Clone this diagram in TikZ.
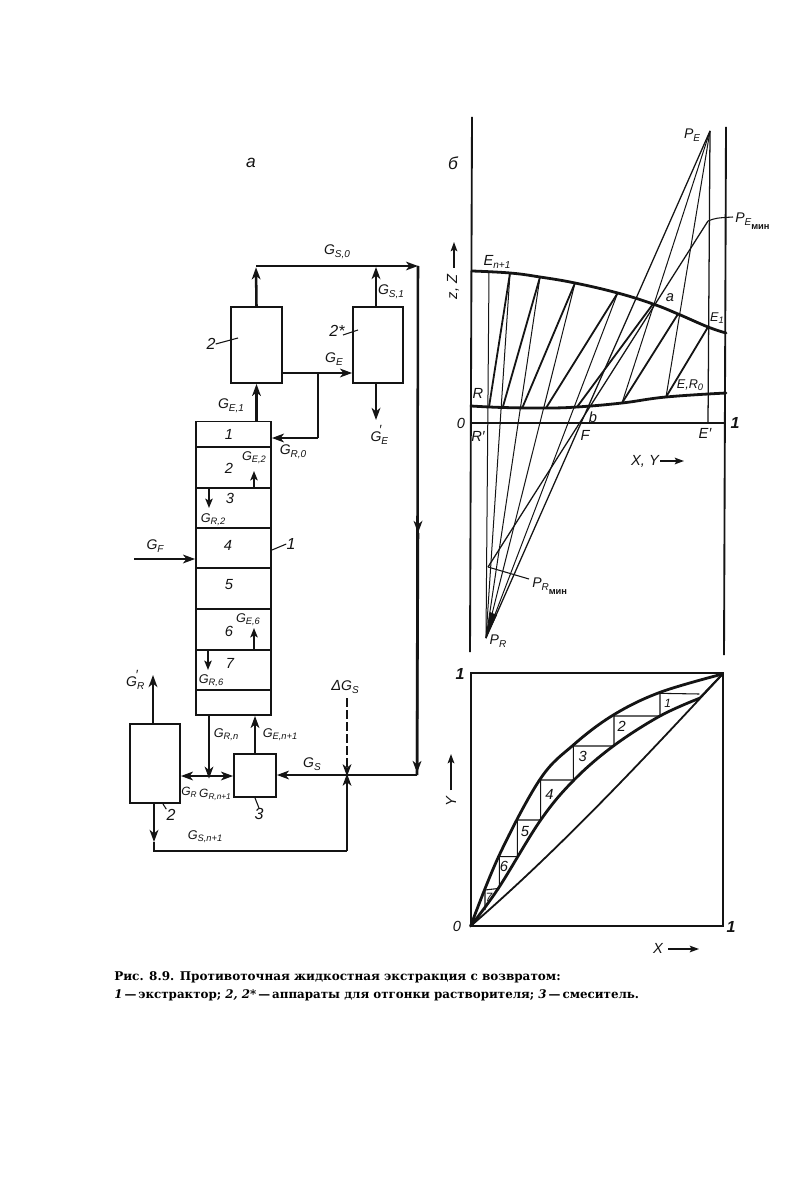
\documentclass[tikz,border=0pt]{standalone}
\usepackage{fontspec}
\setmainfont{Liberation Sans}
\newfontfamily\capf{DejaVu Serif}
\usetikzlibrary{arrows.meta}
\newcommand{\Gl}[2]{{\fontsize{10.5}{10.5}\selectfont #1}\raisebox{-.35ex}{\fontsize{7.5}{7.5}\selectfont #2}}
\newcommand{\Gs}[2]{{\fontsize{9.5}{9.5}\selectfont #1}\raisebox{-.3ex}{\fontsize{7}{7}\selectfont #2}}
\newcommand{\Gt}[2]{{\fontsize{9}{9}\selectfont #1}\raisebox{-.3ex}{\fontsize{6.2}{6.2}\selectfont #2}}
\newcommand{\primemark}{\hspace{-.62em}\raisebox{.95ex}{\fontsize{10}{10}\selectfont ′}}
\tikzset{
  ink/.style={draw=black!92},
  boxn/.style={ink,line width=1.35pt,inner sep=0pt},
  stagen/.style={boxn,minimum width=56.25pt},
  flow/.style={ink,line width=1.9pt,-{Stealth[length=9pt,width=6.5pt,inset=2.5pt]}},
  flowplain/.style={ink,line width=1.9pt},
  flowthin/.style={ink,line width=1.3pt,-{Stealth[length=7pt,width=5.5pt,inset=1.5pt]}},
  lab/.style={inner sep=0pt,font=\itshape\fontsize{11}{11}\selectfont,text=black!92},
  leader/.style={ink,line width=.8pt},
  axisl/.style={ink,line width=1.4pt},
  thin ray/.style={ink,line width=.75pt},
  tie/.style={ink,line width=1.35pt},
  eqc/.style={ink,line width=2.1pt,line cap=round},
  axarrow/.style={ink,line width=1.1pt,-{Stealth[length=7pt,width=5pt,inset=1.5pt]}}
}
\begin{document}
\begin{tikzpicture}[x=.75pt,y=-.75pt]
\useasboundingbox (0,0) rectangle (810,1201);
\fill[white] (0,0) rectangle (810,1201);
% ---------- panel a
\node[lab,font=\itshape\fontsize{13}{13}\selectfont] (pa) at (251,163) {а};
\node[boxn,minimum width=38.25pt,minimum height=57pt] (s2) at (256.5,345) {};
\node[boxn,minimum width=37.5pt,minimum height=57pt] (s2s) at (378,345) {};
\node[boxn,minimum width=37.5pt,minimum height=59.25pt] (s2b) at (155,763.5) {};
\node[boxn,minimum width=31.5pt,minimum height=32.25pt] (s3) at (255,775.5) {};
\node[stagen,minimum height=19.5pt] (c1) at (233.5,434.5) {};
\node[stagen,minimum height=30.75pt] (c2) at (233.5,467.5) {};
\node[stagen,minimum height=30pt] (c3) at (233.5,508) {};
\node[stagen,minimum height=30pt] (c4) at (233.5,548) {};
\node[stagen,minimum height=30.75pt] (c5) at (233.5,588.5) {};
\node[stagen,minimum height=30.75pt] (c6) at (233.5,629.5) {};
\node[stagen,minimum height=30pt] (c7) at (233.5,670) {};
\node[stagen,minimum height=18.75pt] (c8) at (233.5,702.5) {};
\coordinate (tl) at (256,266);
\coordinate (tr) at (418,266);
\coordinate (rb) at (417,775);
\coordinate (cross) at (347,775);
\coordinate (bl) at (154,851);
\coordinate (br) at (347,851);
\coordinate (j1) at (318,373);
\coordinate (j2) at (318,438);
\coordinate (j3) at (209,776);
\coordinate (mid1) at (418,533);
\coordinate (mid2) at (154,842);
\coordinate (fi) at (134,559);
\coordinate (gr) at (153,675);
\coordinate (ge) at (376,420);
\coordinate (dg) at (347,698);
\coordinate (up1) at (254,471);
\coordinate (dn1) at (209,508);
\coordinate (up2) at (254,628);
\coordinate (dn2) at (208,670);
\coordinate (gn) at (255,715);
\coordinate (gt) at (376,267);
% flows
\draw[flow] (s2.north) -- ([yshift=-1pt]tl);
\draw[flow,line width=1.5pt] (tl) -- (tr);
\draw[flow] (s2s.north -| gt) -- (gt);
\draw[flowplain] (tr) -- (rb);
\draw[flow] (tr) -- (mid1);
\draw[flow] (mid1) -- (417,773);
\draw[flow] (c1.north -| s2.south) -- (s2.south);
\draw[flow] (s2.east |- j1) -- (s2s.west |- j1);
\draw[flowplain] (j1) -- (j2);
\draw[flow] (j2) -- (c1.east |- j2);
\draw[flow] (s2s.south -| ge) -- (ge);
\draw[flowthin] (up1 |- c3.north) -- (up1);
\draw[flowthin] (dn1 |- c3.north) -- (dn1);
\draw[flowthin] (up2 |- c7.north) -- (up2);
\draw[flowthin] (dn2 |- c7.north) -- (dn2);
\draw[flow] (fi) -- (c4.west |- fi);
\draw[flow,line width=1.4pt] (c8.south -| j3) -- ([yshift=-2pt]j3);
\draw[flow,{Stealth[length=9pt,width=6.5pt,inset=2.5pt]}-{Stealth[length=9pt,width=6.5pt,inset=2.5pt]}] (s2b.east |- j3) -- (s3.west |- j3);
\draw[flow] (s3.north -| gn) -- (c8.south -| gn);
\draw[flow] (gr |- s2b.north) -- (gr);
\draw[flowplain] (rb) -- (cross);
\draw[flow] (cross) -- (s3.east |- cross);
\draw[flow,dash pattern=on 7pt off 2pt] (dg) -- ([yshift=-1pt]cross);
\draw[flow] (s2b.south -| bl) -- (mid2);
\draw[flowplain] (mid2) -- (bl) -- (br);
\draw[flow] (br) -- ([yshift=1pt]cross);
% labels a
\node[lab] (t1) at (337,252) {\Gl{G}{S,0}};
\node[lab] (t2) at (391,292) {\Gl{G}{S,1}};
\node[lab] (t3) at (334,359) {\Gl{G}{E}};
\node[lab] (t4) at (231,406) {\Gl{G}{E,1}};
\node[lab] (t5) at (376,435) {\Gl{G}{E}\primemark};
\node[lab] (t6) at (293,452) {\Gl{G}{R,0}};
\node[lab] (t7) at (254,458) {\Gs{G}{E,2}};
\node[lab] (t8) at (213,520) {\Gs{G}{R,2}};
\node[lab] (t9) at (155,546) {\Gl{G}{F}};
\node[lab] (t10) at (248,620) {\Gs{G}{E,6}};
\node[lab] (t11) at (211,681) {\Gs{G}{R,6}};
\node[lab] (t12) at (132,680) {\Gl{G}{R}\primemark};
\node[lab] (t13) at (345,687) {Δ\Gl{G}{S}};
\node[lab] (t14) at (226,735) {\Gs{G}{R,n}};
\node[lab] (t15) at (280,735) {\Gs{G}{E,n+1}};
\node[lab] (t16) at (312,764) {\Gl{G}{S}};
\node[lab] (t17) at (189,792) {\Gt{G}{R}};
\node[lab] (t18) at (215,795) {\Gt{G}{R,n+1}};
\node[lab] (t19) at (205,837) {\Gs{G}{S,n+1}};
\node[lab] (d1) at (229,434) {1};
\node[lab] (d2) at (229,468) {2};
\node[lab] (d3) at (230,498) {3};
\node[lab] (d4) at (228,545) {4};
\node[lab] (d5) at (229,585) {5};
\node[lab] (d6) at (229,631) {6};
\node[lab] (d7) at (230,663) {7};
\node[lab,font=\itshape\fontsize{12}{12}\selectfont] (n2) at (211,344) {2};
\draw[leader] (n2.east) -- (238,338);
\node[lab,font=\itshape\fontsize{12}{12}\selectfont] (n2s) at (337,331) {2*};
\draw[leader] (343,335) -- (358,330);
\node[lab,font=\itshape\fontsize{12}{12}\selectfont] (n1) at (291,544) {1};
\draw[leader] (272,550) -- (n1.west);
\node[lab,font=\itshape\fontsize{12}{12}\selectfont] (n2b) at (171,815) {2};
\draw[leader] (163,804) -- (n2b.north west);
\node[lab,font=\itshape\fontsize{12}{12}\selectfont] (n3) at (259,814) {3};
\draw[leader] (255,798) -- (n3.north);
% ---------- panel b
\node[lab,font=\itshape\fontsize{13}{13}\selectfont] (pb) at (453,163) {б};
\coordinate (PE) at (710,131);
\coordinate (PR) at (486,638);
\coordinate (PEm) at (708,221);
\coordinate (PRm) at (488,567);
\coordinate (F) at (579,423);
\coordinate (Ep) at (708,423);
\coordinate (U0) at (489,271.5);
\coordinate (U1) at (510,273);
\coordinate (U2) at (540,277);
\coordinate (U3) at (575,283);
\coordinate (U4) at (617.7,293);
\coordinate (U5) at (653,304);
\coordinate (U6) at (678,314);
\coordinate (U7) at (708,327);
\coordinate (L0) at (489,407);
\coordinate (L1) at (502.7,407.5);
\coordinate (L2) at (522,408.5);
\coordinate (L3) at (546,408);
\coordinate (L4) at (577,407);
\coordinate (L5) at (622,403);
\coordinate (L6) at (666,397);
\draw[axisl] (472,117) -- (470,652);
\draw[axisl] (726,127) -- (724,655);
\draw[axisl] (471,423) -- (725,423);
\foreach \u in {U0,U1,U2,U3,U4} \draw[thin ray] (PR) -- (\u);
\draw[thin ray] (PE) -- (L6);
\draw[thin ray] (PE) -- (L5);
\draw[thin ray,line width=.95pt] (PE) -- (PR);
\draw[thin ray,line width=.95pt] (PEm) -- (PRm);
\draw[thin ray,line width=.95pt] (PE) -- (Ep);
\path[fill=black!92] (PR) -- (490,612) -- (497,615) -- cycle;
\draw[tie] (L0) -- (U1);
\draw[tie] (L1) -- (U2);
\draw[tie] (L2) -- (U3);
\draw[tie] (L3) -- (U4);
\draw[tie] (L4) -- (U5);
\draw[tie] (L5) -- (U6);
\draw[tie] (L6) -- (U7);
\draw[eqc] plot[smooth,tension=.7] coordinates {(472,271) (U1) (U2) (U3) (U4) (U5) (U6) (U7) (726,333)};
\draw[eqc] plot[smooth,tension=.7] coordinates {(471,406) (L1) (L3) (L4) (L5) (L6) (726,393)};
\draw[leader] (PEm) .. controls (716,218) .. (733,217);
\draw[leader] (PRm) -- (529,579);
\draw[axarrow] (454,268) -- (454,242);
\node[lab,rotate=90] (zz) at (453,287) {z, Z};
\node[lab] (l1) at (497,262) {E\raisebox{-.35ex}{\fontsize{7.5}{7.5}\selectfont n+1}};
\node[lab] (l2) at (692,135) {\Gl{P}{E}};
\node[lab,anchor=west] (l3) at (735,221) {\Gl{P}{E}\raisebox{-.9ex}{\fontsize{7}{7}\selectfont\upshape\bfseries мин}};
\node[lab] (l4) at (670,298) {a};
\node[lab] (l5) at (717,318) {\Gs{E}{1}};
\node[lab] (l6) at (690,385) {\Gs{E,R}{0}};
\node[lab] (l7) at (478,393) {R};
\node[lab] (l8) at (461,423) {0};
\node[lab] (l9) at (478,436) {R′};
\node[lab] (l10) at (585,435) {F};
\node[lab] (l11) at (593,417) {b};
\node[lab] (l12) at (705,433) {E′};
\node[lab,font=\itshape\bfseries\fontsize{12}{12}\selectfont] (l13) at (735,423) {1};
\node[lab] (l14) at (645,461) {X, Y};
\draw[axarrow] (660,461) -- (684,461);
\node[lab,anchor=west] (l15) at (532,586) {\Gl{P}{R}\raisebox{-.9ex}{\fontsize{7}{7}\selectfont\upshape\bfseries мин}};
\node[lab] (l16) at (498,641) {\Gl{P}{R}};
% ---------- xy panel
\node[boxn,line width=1.4pt,minimum width=189pt,minimum height=189.75pt] (sq) at (596.7,799.5) {};
\begin{scope}[shift={(440,660)},x=.25pt,y=-.25pt]
\draw[eqc] plot[smooth,tension=.6] coordinates {(92,798)(178,585)(300,358)(400,255)(520,165)(660,97)(848,42)};
\draw[eqc] plot[smooth,tension=.6] coordinates {(92,798)(175,685)(302,480)(402,360)(520,258)(660,168)(778,115)};
\draw[eqc,line width=1.5pt] (778,115) -- (848,42);
\draw[tie] (92,798) .. controls (350,575) and (600,310) .. (848,42);
\draw[thin ray,line width=.8pt] (778,102) -- (660,100) -- (660,168) -- (522,168) -- (522,258) -- (400,258) -- (400,360) -- (302,360) -- (302,480) -- (232,480) -- (232,590) -- (178,590) -- (178,685) -- (135,690) -- (135,750);
\node[lab,font=\itshape\fontsize{9}{9}\selectfont] (s1) at (683,130) {1};
\node[lab] (s2n) at (545,200) {2};
\node[lab] (s3n) at (428,290) {3};
\node[lab] (s4) at (328,402) {4};
\node[lab] (s5) at (255,515) {5};
\node[lab] (s6) at (192,618) {6};
\node[lab,font=\itshape\fontsize{9}{9}\selectfont] (s7) at (147,712) {7};
\end{scope}
\node[lab,font=\itshape\bfseries\fontsize{12}{12}\selectfont] (m1) at (460,674) {1};
\node[lab] (m2) at (457,926) {0};
\node[lab,font=\itshape\bfseries\fontsize{12}{12}\selectfont] (m3) at (731,927) {1};
\node[lab] (m4) at (658,948) {X};
\draw[axarrow] (668,949) -- (699,949);
\node[lab,rotate=90] (m5) at (451,802) {Y};
\draw[axarrow] (451,790) -- (451,754);
% ---------- caption
\node[inner sep=0pt,anchor=west,font=\capf\bfseries\fontsize{9}{9}\selectfont] (cap1) at (114,977) {Рис. 8.9. Противоточная жидкостная экстракция с возвратом:};
\node[inner sep=0pt,anchor=west,font=\capf\bfseries\fontsize{8.9}{9}\selectfont] (cap2) at (114,995) {\textit{1}\,—\,экстрактор; \textit{2, 2*}\,—\,аппараты для отгонки растворителя; \textit{3}\,—\,смеситель.};
\end{tikzpicture}
\end{document}
